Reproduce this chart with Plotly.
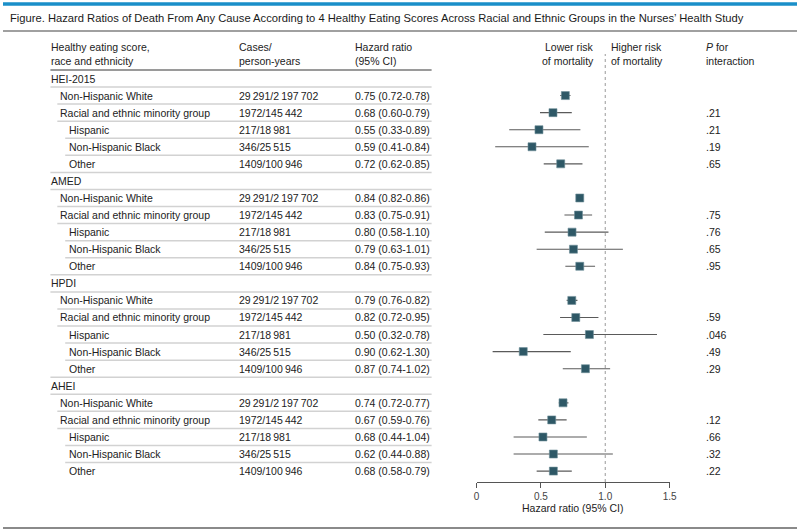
import plotly.graph_objects as go

W, H = 804, 531
FONT = "Liberation Sans, Arial, sans-serif"

# ---------------- data ----------------
scores = ["HEI-2015", "AMED", "HPDI", "AHEI"]
groups = ["Non-Hispanic White", "Racial and ethnic minority group",
          "Hispanic", "Non-Hispanic Black", "Other"]
group_level = [1, 1, 2, 2, 2]
cases = ["29\u2009291/2\u2009197\u2009702", "1972/145\u2009442", "217/18\u2009981",
         "346/25\u2009515", "1409/100\u2009946"]

hr_text = [
    ["0.75 (0.72-0.78)", "0.68 (0.60-0.79)", "0.55 (0.33-0.89)", "0.59 (0.41-0.84)", "0.72 (0.62-0.85)"],
    ["0.84 (0.82-0.86)", "0.83 (0.75-0.91)", "0.80 (0.58-1.10)", "0.79 (0.63-1.01)", "0.84 (0.75-0.93)"],
    ["0.79 (0.76-0.82)", "0.82 (0.72-0.95)", "0.50 (0.32-0.78)", "0.90 (0.62-1.30)", "0.87 (0.74-1.02)"],
    ["0.74 (0.72-0.77)", "0.67 (0.59-0.76)", "0.68 (0.44-1.04)", "0.62 (0.44-0.88)", "0.68 (0.58-0.79)"],
]
p_interaction = [
    ["", ".21", ".21", ".19", ".65"],
    ["", ".75", ".76", ".65", ".95"],
    ["", ".59", ".046", ".49", ".29"],
    ["", ".12", ".66", ".32", ".22"],
]

# point estimates and CI limits as drawn in the forest plot
hr_plot = [
    [0.69, 0.594, 0.485, 0.431, 0.654],
    [0.802, 0.792, 0.742, 0.753, 0.802],
    [0.74, 0.771, 0.877, 0.363, 0.846],
    [0.672, 0.584, 0.516, 0.597, 0.597],
]
lo_plot = [
    [0.65, 0.493, 0.254, 0.145, 0.522],
    [0.79, 0.683, 0.53, 0.467, 0.69],
    [0.70, 0.649, 0.519, 0.125, 0.67],
    [0.639, 0.48, 0.288, 0.288, 0.467],
]
hi_plot = [
    [0.73, 0.74, 0.807, 0.872, 0.823],
    [0.815, 0.898, 1.025, 1.137, 0.921],
    [0.784, 0.947, 1.402, 0.732, 1.038],
    [0.714, 0.70, 0.857, 1.059, 0.74],
]

x_ticks = [0, 0.5, 1.0, 1.5]
x_tick_labels = ["0", "0.5", "1.0", "1.5"]

# ---------------- layout geometry ----------------
ROW0_PX, ROW_STEP = 78.5, 17.07
AXIS_PX = 482
PLOT_L, PLOT_R = 479.5, 675
Y_TOP = -ROW0_PX / ROW_STEP
Y_BOT = (AXIS_PX - ROW0_PX) / ROW_STEP
FS = 10.5

def px(x):
    return x / W

def py(y):
    return 1 - y / H

TXT = "#222222"
fig = go.Figure()

rows = []
for si, s in enumerate(scores):
    rows.append((s, 0, None, None, None, si, None))
    for gi, g in enumerate(groups):
        rows.append((g, group_level[gi], cases[gi], hr_text[si][gi], p_interaction[si][gi], si, gi))

ann = []
shapes = []
indent_px = {0: 47, 1: 56, 2: 65}
line_left = {0: 48, 1: 55, 2: 63}
pts_y, pts_x, pts_lo, pts_hi = [], [], [], []
for i, (lab, lev, cs, ht, pv, si, gi) in enumerate(rows):
    ann.append(dict(x=px(indent_px[lev]), y=i, xref="paper", yref="y", text=lab,
                    xanchor="left", yanchor="middle", showarrow=False,
                    font=dict(size=FS, color=TXT)))
    if cs is not None:
        ann.append(dict(x=px(237), y=i, xref="paper", yref="y", text=cs,
                        xanchor="left", yanchor="middle", showarrow=False,
                        font=dict(size=FS, color=TXT)))
        ann.append(dict(x=px(354), y=i, xref="paper", yref="y", text=ht,
                        xanchor="left", yanchor="middle", showarrow=False,
                        font=dict(size=FS, color=TXT)))
        if pv:
            ann.append(dict(x=px(710), y=i, xref="paper", yref="y", text=pv,
                            xanchor="left", yanchor="middle", showarrow=False,
                            font=dict(size=FS, color=TXT)))
        pts_y.append(i)
        pts_x.append(hr_plot[si][gi])
        pts_lo.append(hr_plot[si][gi] - lo_plot[si][gi])
        pts_hi.append(hi_plot[si][gi] - hr_plot[si][gi])
    if i < len(rows) - 1:
        last_in_group = (gi == len(groups) - 1)
        left = 48 if (lev == 0 or last_in_group) else line_left[lev]
        shapes.append(dict(type="line", xref="paper", yref="y",
                           x0=px(left), x1=px(434), y0=i + 0.5, y1=i + 0.5,
                           line=dict(color="#d2d2d2", width=1.5)))

fig.add_trace(go.Scatter(
    x=pts_x, y=pts_y, mode="markers",
    marker=dict(symbol="square", size=8, color="#2e5866",
                line=dict(color="#6f8f99", width=0.6)),
    error_x=dict(type="data", symmetric=False, array=pts_hi, arrayminus=pts_lo,
                 color="#5a5a5a", thickness=1.1, width=0),
    hoverinfo="skip", showlegend=False,
))

shapes.append(dict(type="line", xref="x", yref="paper", x0=1.0, x1=1.0,
                   y0=py(AXIS_PX), y1=py(54),
                   line=dict(color="#9a9a9a", width=1, dash="dot")))
shapes.append(dict(type="line", xref="paper", yref="paper", x0=px(48), x1=px(434),
                   y0=py(70), y1=py(70), line=dict(color="#9a9a9a", width=1.8)))
shapes.append(dict(type="line", xref="paper", yref="paper", x0=0, x1=1,
                   y0=py(4), y1=py(4), line=dict(color="#1a8fc9", width=3.5)))
shapes.append(dict(type="line", xref="paper", yref="paper", x0=0, x1=1,
                   y0=py(31), y1=py(31), line=dict(color="#a0a0a0", width=1.8)))
shapes.append(dict(type="line", xref="paper", yref="paper", x0=0, x1=1,
                   y0=py(528), y1=py(528), line=dict(color="#8a8a8a", width=1.8)))

ann.append(dict(x=px(5), y=py(17.5), xref="paper", yref="paper",
                text="Figure. Hazard Ratios of Death From Any Cause According to 4 Healthy Eating Scores Across Racial and Ethnic Groups in the Nurses\u2019 Health Study",
                xanchor="left", yanchor="middle", showarrow=False,
                font=dict(size=11.2, color="#1a1a1a")))

def head(x, y, text, anchor="left"):
    ann.append(dict(x=px(x), y=py(y), xref="paper", yref="paper", text=text,
                    xanchor=anchor, yanchor="middle", showarrow=False,
                    font=dict(size=FS, color=TXT)))

head(47, 47, "Healthy eating score,")
head(47, 61, "race and ethnicity")
head(237, 47, "Cases/")
head(237, 61, "person-years")
head(354, 47, "Hazard ratio")
head(354, 61, "(95% CI)")
head(600, 47, "Lower risk", "right")
head(600, 61, "of mortality", "right")
head(614, 47, "Higher risk")
head(614, 61, "of mortality")
head(710, 47, "<i>P</i> for")
head(710, 61, "interaction")

ann.append(dict(x=(px(PLOT_L) + px(PLOT_R)) / 2, y=py(508), xref="paper", yref="paper",
                text="Hazard ratio (95% CI)", xanchor="center", yanchor="middle",
                showarrow=False, font=dict(size=FS, color=TXT)))

fig.update_layout(
    width=W, height=H,
    margin=dict(l=0, r=0, t=0, b=0),
    paper_bgcolor="white", plot_bgcolor="white",
    font=dict(family=FONT, color=TXT),
    xaxis=dict(domain=[px(PLOT_L), px(PLOT_R)], range=[0, 1.5],
               tickvals=x_ticks, ticktext=x_tick_labels,
               showline=True, linecolor="#555555", linewidth=1,
               ticks="outside", ticklen=5, tickcolor="#555555",
               showgrid=False, zeroline=False,
               tickfont=dict(size=10, color="#444444")),
    yaxis=dict(domain=[py(AXIS_PX), 1], range=[Y_BOT, Y_TOP],
               visible=False, showgrid=False, zeroline=False),
    annotations=ann, shapes=shapes,
)

fig.write_html("out.html", config={"displayModeBar": False},
               post_script="document.body.style.margin='0';document.body.style.overflow='hidden';")
